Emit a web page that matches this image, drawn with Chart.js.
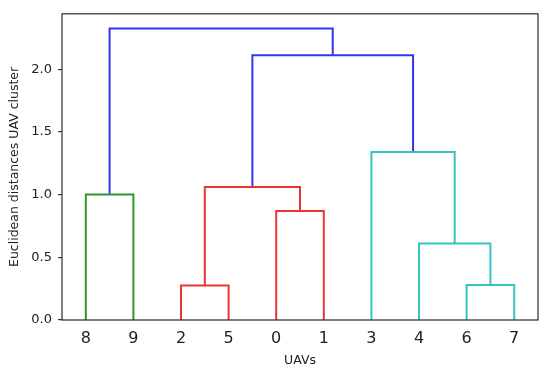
<!DOCTYPE html>
<html>
<head>
<meta charset="utf-8">
<script src="https://cdn.jsdelivr.net/npm/chart.js@4/dist/chart.umd.min.js"></script>
<style>
  html, body { margin: 0; padding: 0; background: #ffffff; }
  #wrap { width: 550px; height: 376px; position: relative; }
</style>
</head>
<body>
<div id="wrap"><canvas id="c" width="550" height="376"></canvas></div>
<script>
// ---- data ----
const leafLabels   = ['8', '9', '2', '5', '0', '1', '3', '4', '6', '7'];   // leaf order, left to right
// linkage: clusters 0..9 are leaves, each merge creates cluster 10, 11, ...
const mergeLeft    = [6, 2, 4, 0, 8, 11, 3, 15, 14];
const mergeRight   = [7, 5, 10, 1, 9, 13, 12, 16, 17];
const mergeHeight  = [0.28, 0.275, 0.61, 0.87, 1.00, 1.06, 1.34, 2.11, 2.325];
const mergeGroup   = ['c', 'r', 'c', 'r', 'g', 'r', 'c', 'b', 'b'];
const yTickValues  = [0.0, 0.5, 1.0, 1.5, 2.0];

const groupColors = { g: '#2f962f', r: '#ec3434', c: '#36c3c3', b: '#3434ec' };

// ---- build link polylines through the tree ----
const nLeaves = leafLabels.length;
const nodeX = {}, nodeH = {};
leafLabels.forEach((lab, i) => { nodeX[+lab] = 5 + 10 * i; nodeH[+lab] = 0; });
const datasets = [];
mergeLeft.forEach((l, k) => {
  const r = mergeRight[k], h = mergeHeight[k], id = nLeaves + k;
  nodeX[id] = (nodeX[l] + nodeX[r]) / 2;
  nodeH[id] = h;
  datasets.push({
    data: [
      { x: nodeX[l], y: nodeH[l] },
      { x: nodeX[l], y: h },
      { x: nodeX[r], y: h },
      { x: nodeX[r], y: nodeH[r] }
    ],
    showLine: true,
    borderColor: groupColors[mergeGroup[k]],
    borderWidth: 2,
    borderJoinStyle: 'miter',
    pointRadius: 0,
    tension: 0,
    fill: false
  });
});
const yMax = Math.max(...mergeHeight) * 1.05;
const leafPositions = leafLabels.map((_, i) => 5 + 10 * i);

const framePlugin = {
  id: 'frame',
  beforeDraw(chart) {
    const ctx = chart.ctx;
    ctx.save();
    ctx.fillStyle = '#ffffff';
    ctx.fillRect(0, 0, chart.width, chart.height);
    ctx.restore();
  },
  afterDraw(chart) {
    const a = chart.chartArea, ctx = chart.ctx;
    ctx.save();
    ctx.strokeStyle = '#3a3a3a';
    ctx.lineWidth = 1.3;
    ctx.strokeRect(a.left, a.top, a.right - a.left, a.bottom - a.top);
    ctx.restore();
  }
};

new Chart(document.getElementById('c'), {
  type: 'scatter',
  data: { datasets },
  plugins: [framePlugin],
  options: {
    responsive: false,
    animation: false,
    layout: { padding: { top: 12, right: 12, left: 0, bottom: 0 } },
    plugins: { legend: { display: false }, tooltip: { enabled: false } },
    scales: {
      x: {
        type: 'linear',
        min: 0, max: 100,
        afterBuildTicks(s) { s.ticks = leafPositions.map(v => ({ value: v })); },
        afterFit(s) { s.height = 56; },
        grid: { display: false },
        border: { display: false },
        ticks: {
          autoSkip: false,
          maxRotation: 0,
          padding: 1,
          color: '#222',
          font: { family: 'DejaVu Sans', size: 16 },
          callback: (v, i) => leafLabels[i]
        },
        title: {
          display: true,
          text: 'UAVs',
          color: '#222',
          font: { family: 'DejaVu Sans', size: 12.5 },
          padding: { top: 0, bottom: 8 }
        }
      },
      y: {
        type: 'linear',
        min: 0, max: yMax,
        afterBuildTicks(s) { s.ticks = yTickValues.map(v => ({ value: v })); },
        afterFit(s) { s.width = 62; },
        grid: { drawOnChartArea: false, drawTicks: true, tickLength: 4, color: '#333', lineWidth: 1.2 },
        border: { display: false },
        ticks: {
          padding: 6,
          color: '#222',
          font: { family: 'DejaVu Sans', size: 13 },
          callback: v => Number(v).toFixed(1)
        },
        title: {
          display: true,
          text: 'Euclidean distances UAV cluster',
          color: '#222',
          font: { family: 'DejaVu Sans', size: 12.5 },
          padding: { top: 7, bottom: 0 }
        }
      }
    }
  }
});
</script>
</body>
</html>
